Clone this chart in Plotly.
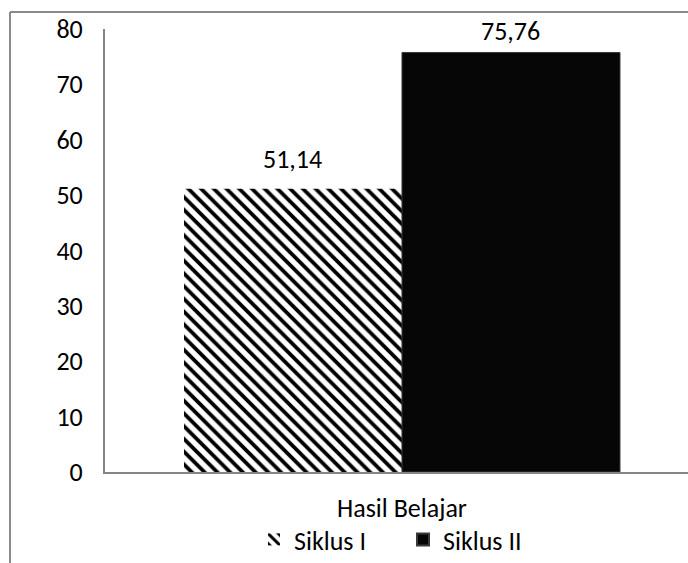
import plotly.graph_objects as go

categories = ["Hasil Belajar"]
series_names = ["Siklus I", "Siklus II"]
siklus_1 = [51.14]
siklus_2 = [75.76]
y_ticks = [0, 10, 20, 30, 40, 50, 60, 70, 80]

FONT = "Carlito, Lato, 'Liberation Sans', sans-serif"
FS = 26
W, H = 688, 563
ML, MR, MT, MB = 105, 0, 29, 90
PW, PH = W - ML - MR, H - MT - MB

def px_x(px):
    return (px - ML) / PW

def px_y(py):
    return (H - MB - py) / PH

fig = go.Figure()
fig.add_trace(go.Bar(
    name=series_names[0], x=categories, y=siklus_1,
    marker=dict(color="white", line=dict(width=0),
                pattern=dict(shape="\\", fgcolor="#000000", bgcolor="#ffffff",
                             fgopacity=1, size=9, solidity=0.42, fillmode="replace")),
))
fig.add_trace(go.Bar(
    name=series_names[1], x=categories, y=siklus_2,
    marker=dict(color="#060606", line=dict(color="#3a3a3a", width=1)),
))

# value labels
offsets = [-109, 109]
yshifts = [12, 3]
for vals, xs, ys in zip([siklus_1, siklus_2], offsets, yshifts):
    for c, v in zip(categories, vals):
        fig.add_annotation(x=c, y=v, text=f"{v:.2f}".replace(".", ","),
                           showarrow=False, xshift=xs, yshift=ys,
                           yanchor="bottom", font=dict(size=FS, color="black", family=FONT))

# outer chart frame (cut off by the window)
fig.add_shape(type="line", xref="paper", yref="paper",
              x0=px_x(10), x1=px_x(10), y0=px_y(12), y1=px_y(H + 5),
              line=dict(color="#8a8a8a", width=2))
fig.add_shape(type="line", xref="paper", yref="paper",
              x0=px_x(10), x1=px_x(W + 5), y0=px_y(12), y1=px_y(12),
              line=dict(color="#8a8a8a", width=2))

fig.update_layout(
    width=W, height=H,
    margin=dict(l=ML, r=MR, t=MT, b=MB),
    paper_bgcolor="white", plot_bgcolor="white",
    barmode="group", bargap=0.266, bargroupgap=0,
    separators=",.",
    font=dict(family=FONT, size=FS, color="black"),
    showlegend=True,
    legend=dict(orientation="h", x=px_x(254), xanchor="left",
                y=px_y(541), yanchor="middle",
                bgcolor="rgba(0,0,0,0)",
                entrywidth=104, entrywidthmode="pixels",
                font=dict(size=FS, family=FONT, color="black"),
                itemsizing="constant", traceorder="normal"),
)
fig.update_xaxes(range=[-0.5, 0.4815], showline=True, linecolor="#868686", linewidth=2,
                 showgrid=False, zeroline=False, ticks="", ticklabelstandoff=12,
                 tickfont=dict(size=FS, family=FONT))
fig.update_yaxes(range=[0, 80], tickvals=y_ticks, showline=True, linecolor="#868686",
                 linewidth=2, showgrid=False, zeroline=False, ticks="",
                 ticklabelstandoff=15, tickfont=dict(size=FS, family=FONT))

fig.write_html("out.html", config={"displayModeBar": False},
               post_script="document.body.style.margin='0';")
